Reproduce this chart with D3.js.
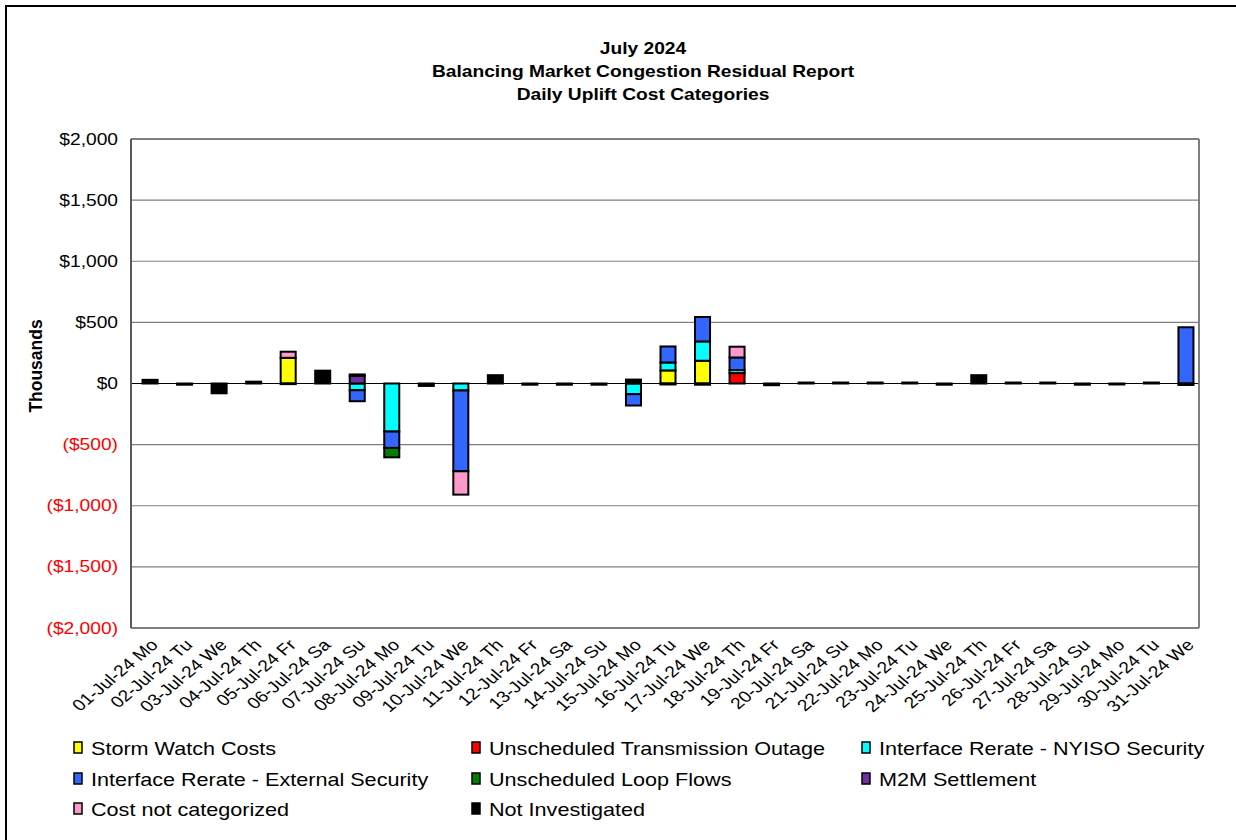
<!DOCTYPE html>
<html>
<head>
<meta charset="utf-8">
<script src="https://cdn.jsdelivr.net/npm/d3@7"></script>
<style>
  html, body { margin: 0; padding: 0; background: #fff; }
  svg { display: block; font-family: "Liberation Sans", Arial, sans-serif; }
</style>
</head>
<body>
<svg id="chart" width="1236" height="840"></svg>
<script>
// Daily uplift cost categories, July 2024 ($ thousands)
const days = [
  "01-Jul-24 Mo","02-Jul-24 Tu","03-Jul-24 We","04-Jul-24 Th","05-Jul-24 Fr","06-Jul-24 Sa",
  "07-Jul-24 Su","08-Jul-24 Mo","09-Jul-24 Tu","10-Jul-24 We","11-Jul-24 Th","12-Jul-24 Fr",
  "13-Jul-24 Sa","14-Jul-24 Su","15-Jul-24 Mo","16-Jul-24 Tu","17-Jul-24 We","18-Jul-24 Th",
  "19-Jul-24 Fr","20-Jul-24 Sa","21-Jul-24 Su","22-Jul-24 Mo","23-Jul-24 Tu","24-Jul-24 We",
  "25-Jul-24 Th","26-Jul-24 Fr","27-Jul-24 Sa","28-Jul-24 Su","29-Jul-24 Mo","30-Jul-24 Tu",
  "31-Jul-24 We"
];

const stormWatch      = [0,0,0,0,210,0, 0,0,0,0,0,0, 0,0,0,107,186,0, 0,0,0,0,0,0, 0,0,0,0,0,0, 0];
const transOutage     = [0,0,0,0,0,0, 0,0,0,0,0,0, 0,0,0,0,0,85, 0,0,0,0,0,0, 0,0,0,0,0,0, 0];
const nyisoSecurity   = [0,0,0,0,0,0, -55,-393,0,-57,0,0, 0,0,-87,65,158,25, 0,0,0,0,0,0, 0,0,0,0,0,0, 0];
const externalSecurity= [0,0,0,0,0,0, -90,-134,0,-661,0,0, 0,0,-93,131,200,103, 0,0,0,0,0,0, 0,0,0,0,0,0, 460];
const loopFlows       = [0,0,0,0,0,0, 0,-77,0,0,0,0, 0,0,0,0,0,0, 0,0,0,0,0,0, 0,0,0,0,0,0, 0];
const m2mSettlement   = [0,0,0,0,0,0, 62,0,0,0,0,0, 0,0,0,0,0,0, 0,0,0,0,0,0, 0,0,0,0,0,0, 0];
const notCategorized  = [0,0,0,0,50,0, 0,0,0,-191,0,0, 0,0,0,0,0,88, 0,0,0,0,0,0, 0,0,0,0,0,0, 0];
const notInvestigated = [30,-10,-80,15,-5,105, 12,0,-20,0,68,-10, -10,-10,32,-8,-10,0, -14,8,8,8,8,-10, 68,8,8,-10,-8,8, -12];

const seriesNames = [
  "Storm Watch Costs","Unscheduled Transmission Outage","Interface Rerate - NYISO Security",
  "Interface Rerate - External Security","Unscheduled Loop Flows","M2M Settlement",
  "Cost not categorized","Not Investigated"
];
const seriesColors = ["#FFFF00","#FF0000","#00FFFF","#3366FF","#008000","#7030A0","#FF99CC","#000000"];
const seriesValues = [stormWatch, transOutage, nyisoSecurity, externalSecurity, loopFlows, m2mSettlement, notCategorized, notInvestigated];

const yTicks = [2000,1500,1000,500,0,-500,-1000,-1500,-2000];

// Row table for d3.stack
const rows = days.map((d, i) => {
  const r = { day: d };
  seriesNames.forEach((s, k) => { r[s] = seriesValues[k][i]; });
  return r;
});

const svg = d3.select("#chart");
const W = 1236, H = 840;
const plot = { left: 131, right: 1199, top: 139, bottom: 628 };
const SX = 1.2; // horizontal stretch of the text face

// stretch a text horizontally about its anchor point (ax, ay)
const stretch = (ax, ay, sx) => `translate(${ax},${ay}) scale(${sx},1) translate(${-ax},${-ay})`;

// outer frame
svg.append("rect")
  .attr("x", 6).attr("y", 6).attr("width", W + 20).attr("height", H + 20)
  .attr("fill", "#fff").attr("stroke", "#000").attr("stroke-width", 2);

// titles
const titles = ["July 2024", "Balancing Market Congestion Residual Report", "Daily Uplift Cost Categories"];
svg.append("g").selectAll("text").data(titles).join("text")
  .attr("x", 643).attr("y", (d, i) => 54 + i * 23)
  .attr("transform", (d, i) => stretch(643, 54 + i * 23, SX))
  .attr("text-anchor", "middle")
  .attr("font-size", 16).attr("font-weight", "bold")
  .text(d => d);

const x = d3.scaleBand().domain(days).range([134, 1202]).paddingInner(0.565).paddingOuter(0.2475);
const y = d3.scaleLinear().domain([-2000, 2000]).range([plot.bottom, plot.top]);

// gridlines
svg.append("g").selectAll("line").data(yTicks).join("line")
  .attr("x1", plot.left).attr("x2", plot.right)
  .attr("y1", d => y(d)).attr("y2", d => y(d))
  .attr("stroke", d => d === 0 ? "#000" : "#7f7f7f")
  .attr("stroke-width", d => (d === 2000 || d === -2000) ? 2 : 1.2);

// plot frame
svg.append("line").attr("x1", plot.left).attr("x2", plot.left)
  .attr("y1", plot.top).attr("y2", plot.bottom).attr("stroke", "#5a5a5a").attr("stroke-width", 2);
svg.append("line").attr("x1", plot.right).attr("x2", plot.right)
  .attr("y1", plot.top).attr("y2", plot.bottom).attr("stroke", "#7f7f7f").attr("stroke-width", 2);

// y axis labels
const fmt = v => {
  const s = "$" + d3.format(",")(Math.abs(v));
  return v < 0 ? "(" + s + ")" : s;
};
const yPad = 13;
const yAxis = d3.axisLeft(y).tickValues(yTicks).tickFormat(fmt).tickSize(0).tickPadding(yPad);
const yg = svg.append("g").attr("transform", `translate(${plot.left},0)`).call(yAxis);
yg.select(".domain").remove();
yg.selectAll("text")
  .attr("font-size", 16).attr("font-family", "Liberation Sans, Arial, sans-serif")
  .attr("transform", stretch(-yPad, 0, SX))
  .attr("fill", d => d < 0 ? "#FF0000" : "#000");

svg.append("text")
  .attr("transform", "translate(42,366) scale(1.1,1) rotate(-90)")
  .attr("text-anchor", "middle").attr("font-size", 17.5).attr("font-weight", "bold")
  .text("Thousands");

// stacked bars
const stack = d3.stack().keys(seriesNames).offset(d3.stackOffsetDiverging);
const layers = stack(rows);
svg.append("g").selectAll("g").data(layers).join("g")
  .attr("fill", (d, i) => seriesColors[i])
  .selectAll("rect").data(d => d.filter(p => p[1] - p[0] !== 0)).join("rect")
  .attr("x", p => x(p.data.day))
  .attr("width", x.bandwidth())
  .attr("y", p => y(Math.max(p[0], p[1])))
  .attr("height", p => Math.abs(y(p[0]) - y(p[1])))
  .attr("stroke", "#000").attr("stroke-width", 2);

// x axis labels
const xAxis = d3.axisBottom(x).tickSize(0).tickPadding(0);
const xg = svg.append("g").attr("transform", `translate(0,${plot.bottom})`).call(xAxis);
xg.select(".domain").remove();
xg.selectAll("text")
  .attr("font-size", 16).attr("font-family", "Liberation Sans, Arial, sans-serif")
  .attr("text-anchor", "end")
  .attr("dy", 0).attr("y", 0).attr("x", 0)
  .attr("transform", `translate(9,18) scale(${SX},1) rotate(-45)`);

// legend
const legendPos = [[74,748],[472,748],[862,748],[74,779],[472,779],[862,779],[74,809],[472,809]];
const lg = svg.append("g").selectAll("g").data(seriesNames).join("g")
  .attr("transform", (d, i) => `translate(${legendPos[i][0]},${legendPos[i][1]})`);
lg.append("rect").attr("x", 0).attr("y", -6).attr("width", 8).attr("height", 11)
  .attr("fill", (d, i) => seriesColors[i]).attr("stroke", "#000").attr("stroke-width", 1.5);
lg.append("text").attr("x", 17).attr("y", 6.5)
  .attr("transform", stretch(17, 6.5, SX))
  .attr("font-size", 18).text(d => d);
</script>
</body>
</html>
